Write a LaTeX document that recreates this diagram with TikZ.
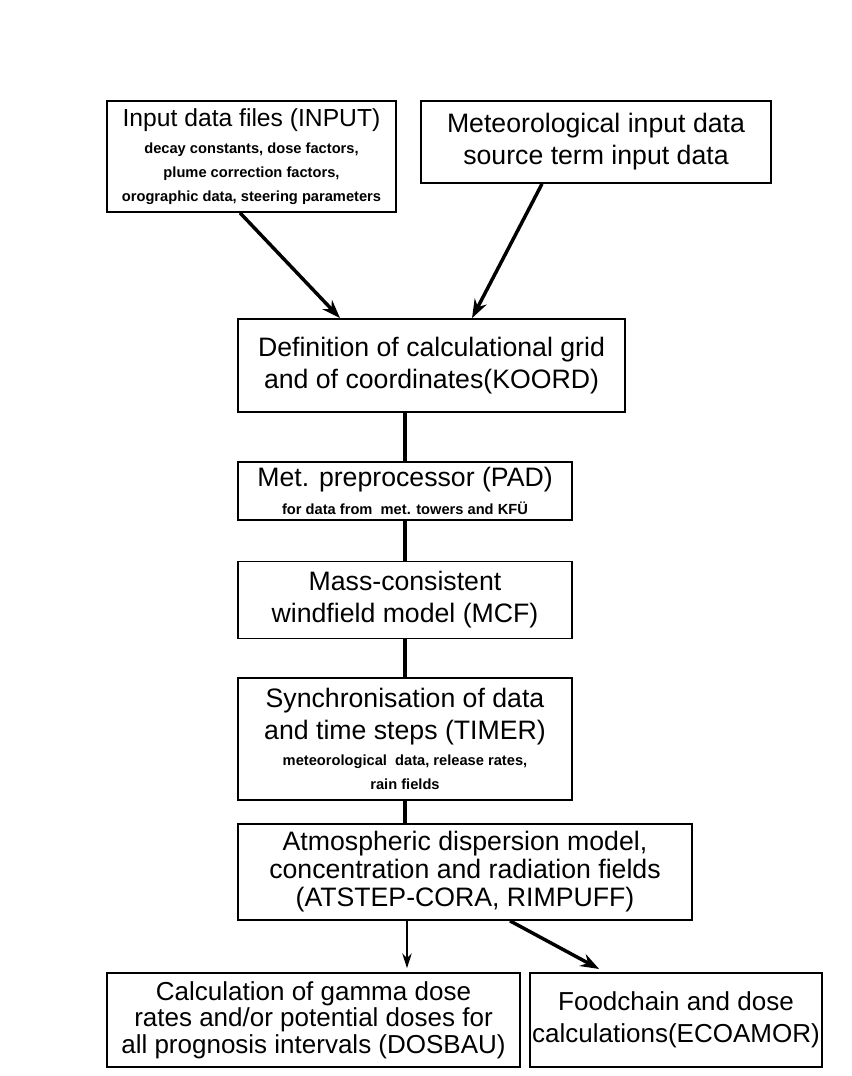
\documentclass[tikz,border=0pt]{standalone}
\usepackage{fontspec}
\setmainfont{Liberation Sans}
\usetikzlibrary{arrows.meta}

\tikzset{
  box/.style={draw, line width=1.3pt, align=center, inner sep=1pt, font=\fontsize{20}{24}\selectfont},
  boxsize/.style 2 args={minimum width=0.75*#1pt, minimum height=0.75*#2pt},
  link/.style={line width=2.8pt},
  flow/.style={line width=2.6pt, -{Stealth[length=14pt,width=10pt]}},
  thinflow/.style={line width=1.8pt, -{Stealth[length=11pt,width=7pt]}},
}
\newcommand{\smalltext}[1]{{\fontsize{11}{16}\selectfont\bfseries #1}}

\begin{document}
\begin{tikzpicture}[x=0.75pt,y=0.75pt,yscale=-1,xscale=1]
\useasboundingbox (0,0) rectangle (851,1076);

%Shape: Rectangle [input files]
\node (input) [box, boxsize={289}{111}] at (251.5,156.5) {\fontsize{18.5}{22}\selectfont Input data files (INPUT)\\[-4pt] \smalltext{decay constants, dose factors,}\\[-6pt] \smalltext{plume correction factors,}\\[-6pt] \smalltext{orographic data, steering parameters}};
%Shape: Rectangle [met data]
\node (met) [box, boxsize={350}{82}] at (596,142) {Meteorological input data\\ source term input data};
%Shape: Rectangle [grid]
\node (koord) [box, boxsize={387}{93}] at (431.5,365.5) {Definition of calculational grid\\ and of coordinates(KOORD)};
%Shape: Rectangle [preprocessor]
\node (pad) [box, boxsize={334}{58}] at (405,491) {Met. preprocessor (PAD)\\[-3pt] \smalltext{for data from\ \ met. towers and KFÜ}};
%Shape: Rectangle [windfield]
\node (mcf) [box, boxsize={334}{77}] at (405,600) {Mass-consistent\\ windfield model (MCF)};
%Shape: Rectangle [timer]
\node (timer) [box, boxsize={334}{122}] at (405,739) {Synchronisation of data\\ and time steps (TIMER)\\[-4pt] \smalltext{meteorological\ \ data, release rates,}\\[-6pt] \smalltext{rain fields}};
%Shape: Rectangle [dispersion]
\node (atstep) [box, boxsize={454}{96}] at (465,872) {Atmospheric dispersion model,\\[-3pt] concentration and radiation fields\\[-3pt] (ATSTEP-CORA, RIMPUFF)};
%Shape: Rectangle [gamma dose]
\node (dosbau) [box, boxsize={413}{94}, font=\fontsize{19.5}{24}\selectfont] at (313.5,1020) {Calculation of gamma dose\\[-4pt] rates and/or potential doses for\\[-4pt] all prognosis intervals (DOSBAU)};
%Shape: Rectangle [foodchain]
\node (ecoamor) [box, boxsize={292}{94}, font=\fontsize{19.5}{24}\selectfont] at (676,1020) {Foodchain and dose\\ calculations(ECOAMOR)};

%Straight Lines [inputs into grid]
\draw [flow] ([xshift=-8.6pt]input.south) -- ([xshift=-68.6pt]koord.north);
\draw [flow] ([xshift=-40.5pt]met.south) -- ([xshift=30.4pt]koord.north);
%Straight Lines [main chain]
\draw [link] (pad.north) -- (pad.north |- koord.south);
\draw [link] (mcf.north) -- (pad.south);
\draw [link] (timer.north) -- (mcf.south);
\draw [link] (atstep.north -| timer.north) -- (timer.south);
%Straight Lines [outputs]
\draw [thinflow, shorten >=3pt] ([xshift=-43.5pt]atstep.south) -- ([xshift=-43.5pt]atstep.south |- dosbau.north);
\draw [flow, shorten >=5pt] ([xshift=33.75pt]atstep.south) -- ([xshift=-53.25pt]ecoamor.north);

\end{tikzpicture}
\end{document}
